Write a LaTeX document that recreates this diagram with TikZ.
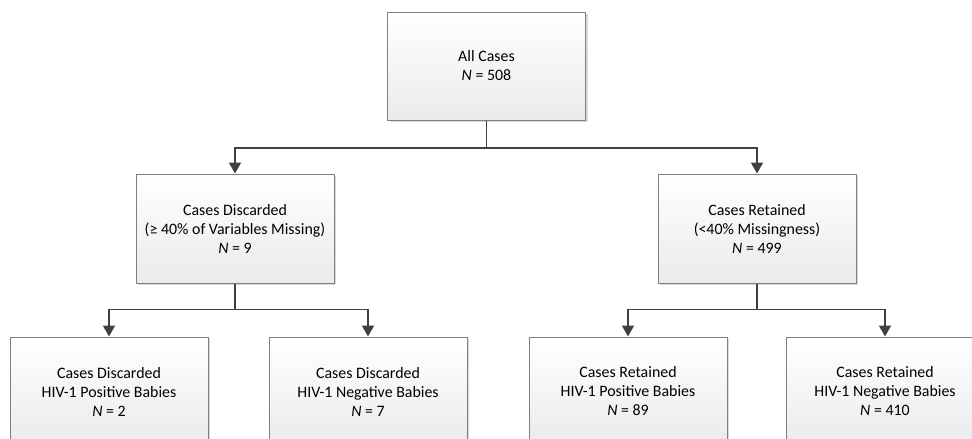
\documentclass[tikz,border=0pt]{standalone}
\usepackage{fontspec}
\setmainfont{Carlito}
\usetikzlibrary{arrows.meta,shadows}
\definecolor{linec}{HTML}{404040}
\definecolor{boxborder}{HTML}{7F7F7F}
\tikzset{
  box/.style={rectangle, draw=boxborder, line width=1pt, top color=white, bottom color=black!8,
    minimum width=198pt, minimum height=109pt, align=center, inner sep=0pt,
    font=\fontsize{15.9}{19}\selectfont,
    drop shadow={shadow xshift=2pt, shadow yshift=-2pt, fill=black!25, opacity=0.6}},
  conn/.style={draw=linec, line width=1.8pt},
  arr/.style={conn, -{Triangle[width=12pt,length=11pt]}},
}
\begin{document}
\begin{tikzpicture}[x=1pt,y=-1pt]
\useasboundingbox (0,0) rectangle (972,439);
\clip (0,0) rectangle (972,439);
\node[box, minimum height=108pt] (top) at (486.5,66) {All Cases\\\textit{N} = 508};
\node[box] (ml) at (235,228.5) {Cases Discarded\\(≥ 40\% of Variables Missing)\\\textit{N} = 9};
\node[box] (mr) at (757,228.5) {Cases Retained\\(<40\% Missingness)\\\textit{N} = 499};
\node[box] (b1) at (109,391.5) {Cases Discarded\\HIV-1 Positive Babies\\\textit{N} = 2};
\node[box] (b2) at (368,391.5) {Cases Discarded\\HIV-1 Negative Babies\\\textit{N} = 7};
\node[box] (b3) at (628,391.5) {Cases Retained\\HIV-1 Positive Babies\\\textit{N} = 89};
\node[box] (b4) at (885,391.5) {Cases Retained\\HIV-1 Negative Babies\\\textit{N} = 410};
\coordinate (j0) at (486.5,147.7);
\coordinate (j1) at (235,309.5);
\coordinate (j2) at (757,309.5);
\draw[conn] (top.south) -- (j0);
\draw[arr] (j0) -| (ml.north);
\draw[arr] (j0) -| (mr.north);
\draw[conn] (ml.south) -- (j1);
\draw[arr] (j1) -| (b1.north);
\draw[arr] (j1) -| (b2.north);
\draw[conn] (mr.south) -- (j2);
\draw[arr] (j2) -| (b3.north);
\draw[arr] (j2) -| (b4.north);
\end{tikzpicture}
\end{document}
